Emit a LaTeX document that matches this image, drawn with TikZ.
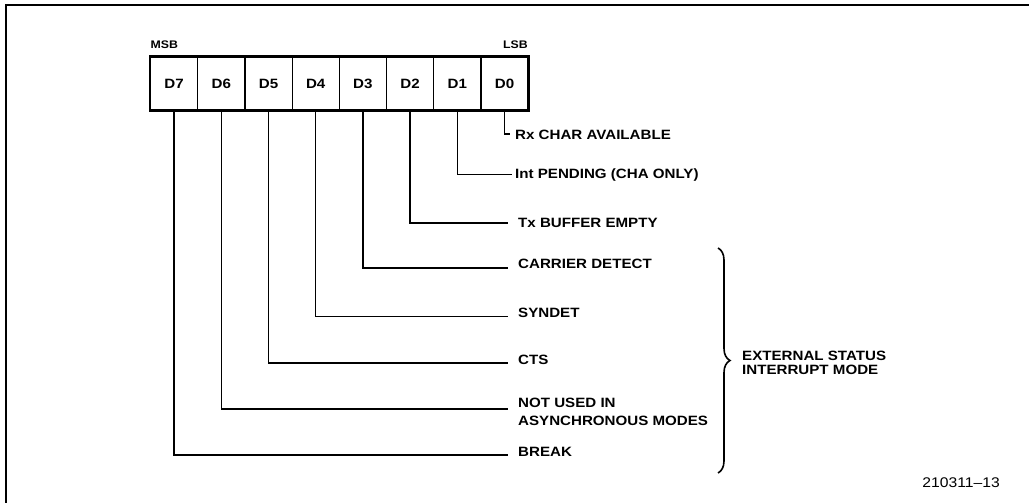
\documentclass[tikz,border=0pt]{standalone}
\usepackage{fontspec}
\newfontfamily\labfont{Liberation Sans}[FakeStretch=1.12, Ligatures=TeX]
\usetikzlibrary{decorations.pathreplacing}
\begin{document}
\begin{tikzpicture}[x=1pt,y=-1pt,
  cell/.style={draw, line width=1.2pt, minimum width=47.2pt, minimum height=53pt, inner sep=0pt,
    text height=9.6pt, text depth=0pt,
    font=\labfont\bfseries\fontsize{13.5}{15}\selectfont},
  lab/.style={anchor=west, inner sep=0pt, align=left,
    font=\labfont\bfseries\fontsize{13.5}{15}\selectfont},
  small/.style={inner sep=0pt, font=\labfont\bfseries\fontsize{11}{12}\selectfont},
  lead/.style={line width=1.5pt},
  frame/.style={line width=2pt}]
\useasboundingbox (0,0) rectangle (1029,503);
% frame
\draw[frame] (6,503) -- (6,5) -- (1029,5);
% register cells
\node[cell] (c7) at (174.1,83.5) {D7};
\node[cell] (c6) at (221.3,83.5) {D6};
\node[cell] (c5) at (268.5,83.5) {D5};
\node[cell] (c4) at (315.7,83.5) {D4};
\node[cell] (c3) at (362.9,83.5) {D3};
\node[cell] (c2) at (410.1,83.5) {D2};
\node[cell] (c1) at (457.3,83.5) {D1};
\node[cell] (c0) at (504.5,83.5) {D0};
\draw[line width=2.6pt] (c7.north west) rectangle (c0.south east);
\node[small, anchor=west] (msb) at (150.5,45) {MSB};
\node[small, anchor=east] (lsb) at (528,45) {LSB};
% line ends
\coordinate (e0) at (510,134);
\coordinate (e1) at (511.5,174.5);
\coordinate (e2) at (508,223);
\coordinate (e3) at (508,268);
\coordinate (e4) at (508,316.5);
\coordinate (e5) at (508,363);
\coordinate (e6) at (508,409);
\coordinate (e7) at (508,455);
% labels
\node[lab] (l0) at (515,135) {Rx CHAR AVAILABLE};
\node[lab] (l1) at (515,175) {Int PENDING (CHA ONLY)};
\node[lab] (l2) at (518,223) {Tx BUFFER EMPTY};
\node[lab] (l3) at (518,264) {CARRIER DETECT};
\node[lab] (l4) at (518,312.5) {SYNDET};
\node[lab] (l5) at (518,360) {CTS};
\node[lab] (l6) at (518,412) {NOT USED IN\\[3pt]ASYNCHRONOUS MODES};
\node[lab] (l7) at (518,452) {BREAK};
% leaders
\draw[lead] (c0.south) |- (e0);
\draw[lead] (c1.south) |- (e1);
\draw[lead] (c2.south) |- (e2);
\draw[lead] (c3.south) |- (e3);
\draw[lead] (c4.south) |- (e4);
\draw[lead] (c5.south) |- (e5);
\draw[lead] (c6.south) |- (e6);
\draw[lead] (c7.south) |- (e7);
% brace
\coordinate (bt) at (718,248);
\coordinate (bb) at (718,473);
\draw[line width=1.6pt, decorate, decoration={brace, amplitude=12pt}] (bt) -- (bb);
\node[lab] (ext) at (742,363) {EXTERNAL STATUS\\[-1.5pt]INTERRUPT MODE};
% figure number
\node[inner sep=0pt, anchor=east, font=\labfont\fontsize{14}{16}\selectfont] (fig) at (1000,483) {210311\textendash 13};
\end{tikzpicture}
\end{document}
